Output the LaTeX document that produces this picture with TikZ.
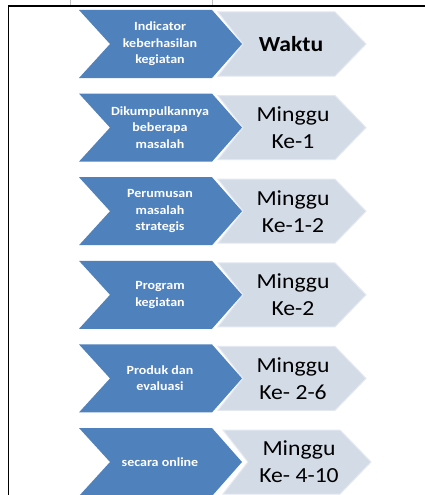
\documentclass[tikz,border=0pt]{standalone}
\usepackage{fontspec}
\setmainfont{Carlito}
\definecolor{chevblue}{HTML}{4F81BD}
\definecolor{chevgray}{HTML}{D3DBE7}
\definecolor{chevedge}{HTML}{E4E9F1}
\begin{document}
\begin{tikzpicture}[x=1pt,y=-1pt,
  bluechev/.style={fill=chevblue,draw=none},
  graychev/.style={fill=chevgray,draw=chevedge,line width=1pt},
  bluetxt/.style={text=white,font=\fontsize{12.5}{16.5}\selectfont\bfseries,align=center,inner sep=0pt,xscale=1.12},
  graytxt/.style={text=black,font=\fontsize{21.5}{27}\selectfont,align=center,inner sep=0pt,xscale=1.1},
  framel/.style={line width=1.4pt,draw=black},
  tick/.style={line width=0.6pt,draw=black!25}]
\useasboundingbox (0,0) rectangle (424,495);
\fill[white] (0,0) rectangle (424,495);
% frame
\draw[tick] (70,0) -- (70,6);
\draw[tick] (212,0) -- (212,6);
\draw[framel] (8.5,500) -- (8.5,6) -- (430,6);
% chevrons
\foreach \i/\dx in {0/0,1/0,2/0,3/0,4/0,5/5}{
  \pgfmathsetmacro{\c}{44+83.6*\i}
  \fill[chevgray,draw=chevedge,line width=1pt] (218+\dx,\c-32) -- (335+\dx,\c-32) -- (366+\dx,\c) -- (335+\dx,\c+32) -- (218+\dx,\c+32) -- (243+\dx,\c) -- cycle;
  \fill[bluechev] (79,\c-34) -- (212,\c-34) -- (242,\c) -- (212,\c+34) -- (79,\c+34) -- (110,\c) -- cycle;
}
% texts
\node[bluetxt] (b1) at (160,44) {Indicator\\keberhasilan\\kegiatan};
\node[graytxt,font=\fontsize{21.5}{27}\selectfont\bfseries] (g1) at (291,44) {Waktu};
\node[bluetxt] (b2) at (160,127.6) {Dikumpulkannya\\beberapa\\masalah};
\node[graytxt] (g2) at (293,127.6) {Minggu\\Ke-1};
\node[bluetxt] (b3) at (160,211.2) {Perumusan\\masalah\\strategis};
\node[graytxt] (g3) at (293,211.2) {Minggu\\Ke-1-2};
\node[bluetxt] (b4) at (160,294.8) {Program\\kegiatan};
\node[graytxt] (g4) at (293,294.8) {Minggu\\Ke-2};
\node[bluetxt] (b5) at (160,378.4) {Produk dan\\evaluasi};
\node[graytxt] (g5) at (293,378.4) {Minggu\\Ke- 2-6};
\node[bluetxt] (b6) at (160,462) {secara online};
\node[graytxt] (g6) at (299,462) {Minggu\\Ke- 4-10};
\end{tikzpicture}
\end{document}
